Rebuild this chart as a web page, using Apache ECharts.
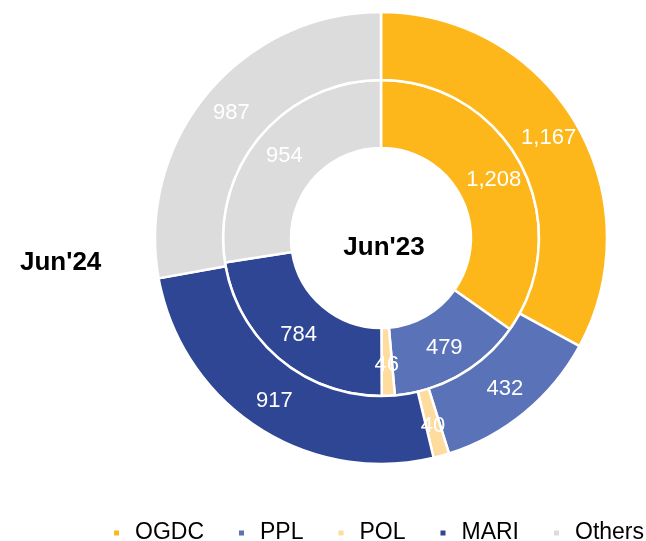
<!DOCTYPE html>
<html>
<head>
<meta charset="utf-8">
<script src="https://cdn.jsdelivr.net/npm/echarts@6/dist/echarts.min.js"></script>
<style>
  html, body { margin: 0; padding: 0; background: #fff; }
  #chart { width: 646px; height: 541px; }
</style>
</head>
<body>
<div id="chart"></div>
<script>
// companies
const companies = ['OGDC', 'PPL', 'POL', 'MARI', 'Others']
// Jun'23 (inner ring) and Jun'24 (outer ring)
const jun23 = [1208, 479, 46, 784, 954]
const jun24 = [1167, 432, 40, 917, 987]
const colors = ['#FDB71A', '#5A72B8', '#FEDC9E', '#2F4694', '#DCDCDC']

const chart = echarts.init(document.getElementById('chart'))

function toData(values) {
  return companies.map((name, i) => ({ name: name, value: values[i] }))
}

const ringLabel = {
  show: true,
  position: 'inside',
  color: '#fff',
  fontSize: 22,
  formatter: p => p.value.toLocaleString('en-US')
}

chart.setOption({
  color: colors,
  textStyle: { fontFamily: 'Liberation Sans, Arial, sans-serif' },
  animation: false,
  legend: {
    left: 112,
    top: 520,
    width: 620,
    padding: 0,
    itemWidth: 7,
    itemHeight: 7,
    itemGap: 33,
    icon: 'rect',
    textStyle: { fontSize: 23, color: '#000', lineHeight: 26, padding: [0, 0, 0, 10] },
    data: companies
  },
  graphic: [
    {
      type: 'text',
      left: 20,
      top: 250,
      style: { text: "Jun'24", font: 'bold 26px Liberation Sans, Arial', fill: '#000' }
    },
    {
      type: 'text',
      x: 384,
      y: 248,
      style: { text: "Jun'23", font: 'bold 26px Liberation Sans, Arial', fill: '#000', align: 'center', verticalAlign: 'middle' }
    }
  ],
  series: [
    {
      name: "Jun'23",
      type: 'pie',
      center: [381, 238],
      radius: [90, 158],
      startAngle: 90,
      clockwise: true,
      avoidLabelOverlap: false,
      itemStyle: { borderColor: '#fff', borderWidth: 2.5 },
      label: ringLabel,
      labelLine: { show: false },
      emphasis: { disabled: true },
      data: toData(jun23)
    },
    {
      name: "Jun'24",
      type: 'pie',
      center: [381, 238],
      radius: [158, 226],
      startAngle: 90,
      clockwise: true,
      avoidLabelOverlap: false,
      itemStyle: { borderColor: '#fff', borderWidth: 2.5 },
      label: ringLabel,
      labelLine: { show: false },
      emphasis: { disabled: true },
      data: toData(jun24)
    }
  ]
})
</script>
</body>
</html>
